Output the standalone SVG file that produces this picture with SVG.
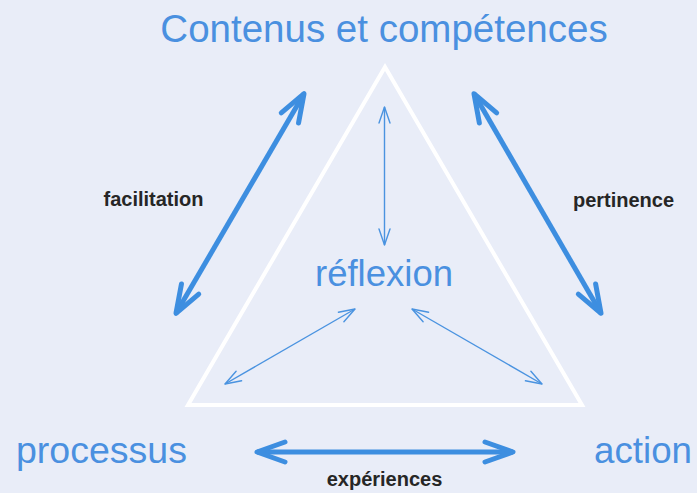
<svg xmlns="http://www.w3.org/2000/svg" width="697" height="493" viewBox="0 0 697 493">
  <style>
    .big { font-family: "Liberation Sans", Arial, sans-serif; fill: #4a90e0; }
    .lbl { font-family: "Liberation Sans", Arial, sans-serif; font-weight: bold; fill: #262626; font-size: 20px; }
    .thick { stroke: #3d8ee0; stroke-width: 5; fill: none; }
    .thin { stroke: #4a93e0; stroke-width: 1.4; fill: none; }
  </style>
  <defs>
    <marker id="mBig" markerUnits="userSpaceOnUse" orient="auto-start-reverse" refX="0" refY="0" markerWidth="40" markerHeight="40" style="overflow:visible">
      <path d="M-28,-10 L0,0 L-28,10" fill="none" stroke="#3d8ee0" stroke-width="5" stroke-linecap="round" stroke-linejoin="round"/>
    </marker>
    <marker id="mThin" markerUnits="userSpaceOnUse" orient="auto-start-reverse" refX="0" refY="0" markerWidth="20" markerHeight="20" style="overflow:visible">
      <path d="M-16,-5.5 L0,0 L-16,5.5" fill="none" stroke="#4a93e0" stroke-width="1.4" stroke-linecap="round" stroke-linejoin="round"/>
    </marker>
  </defs>
  <rect width="697" height="493" fill="#e9edf8"/>
  <g id="triangle">
    <polygon points="385,67 188,405 582,405" fill="none" stroke="#ffffff" stroke-width="4"/>
  </g>
  <g id="connectors">
    <line class="thick" x1="304" y1="93.7" x2="176" y2="313.3" marker-start="url(#mBig)" marker-end="url(#mBig)"/>
    <line class="thick" x1="474" y1="93.7" x2="601" y2="313.3" marker-start="url(#mBig)" marker-end="url(#mBig)"/>
    <line class="thick" x1="257" y1="452" x2="513" y2="452" marker-start="url(#mBig)" marker-end="url(#mBig)"/>
    <line class="thin" x1="384.5" y1="107" x2="384.5" y2="245" marker-start="url(#mThin)" marker-end="url(#mThin)"/>
    <line class="thin" x1="355" y1="309" x2="225" y2="384" marker-start="url(#mThin)" marker-end="url(#mThin)"/>
    <line class="thin" x1="412" y1="309" x2="542" y2="384" marker-start="url(#mThin)" marker-end="url(#mThin)"/>
  </g>
  <g id="node-contenus">
    <text class="big" x="384" y="42" font-size="38.5" text-anchor="middle">Contenus et compétences</text>
  </g>
  <g id="node-reflexion">
    <text class="big" x="384" y="286" font-size="36.5" text-anchor="middle">réflexion</text>
  </g>
  <g id="node-processus">
    <text class="big" x="16" y="463" font-size="37.5">processus</text>
  </g>
  <g id="node-action">
    <text class="big" x="692" y="463" font-size="36.7" text-anchor="end">action</text>
  </g>
  <g id="labels">
    <text class="lbl" x="153.5" y="206" text-anchor="middle">facilitation</text>
    <text class="lbl" x="623.5" y="207" text-anchor="middle">pertinence</text>
    <text class="lbl" x="384.5" y="486" text-anchor="middle">expériences</text>
  </g>
</svg>
